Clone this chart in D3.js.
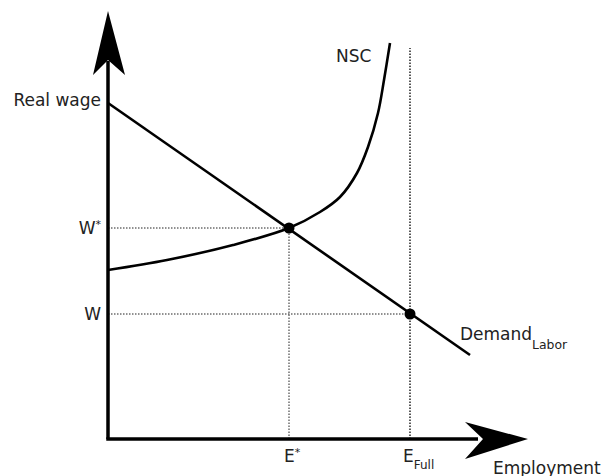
<!DOCTYPE html>
<html><head><meta charset="utf-8">
<script src="https://cdn.jsdelivr.net/npm/d3@7"></script>
<style>body{margin:0;background:#fff}svg{display:block}text{font-family:"DejaVu Sans",sans-serif;fill:#222}</style>
</head><body><svg id="c" width="606" height="476"></svg>
<script>
// Data (abstract units: employment on x, real wage on y)
const axisExtent = {x: 105, y: 107};
const demandPoints = [[0, 84], [90.5, 21]];
const nscPoints = [[0, 42.25], [14.75, 44.75], [31.25, 48.5], [45.25, 52.75], [53, 56.75], [58, 60.5], [62.25, 66.5], [65, 73], [67.5, 81.5], [69, 89.75], [70.5, 99]];
const eStar = 45.25, wStar = 52.75;
const eFull = 75.5, wLow = 31.25;
const eFullLineTop = 97.75;

const svg = d3.select("#c");
const x = d3.scaleLinear().domain([0, 100]).range([108, 508]);
const y = d3.scaleLinear().domain([0, 100]).range([439, 39]);

const line = d3.line().x(d => x(d[0])).y(d => y(d[1]));

// dotted guides
const dots = [
  {p: [[0, wStar], [eStar, wStar]], w: 1},
  {p: [[eStar, 0], [eStar, wStar]], w: 1},
  {p: [[0, wLow], [eFull, wLow]], w: 1},
  {p: [[eFull, 0], [eFull, eFullLineTop]], w: 1.5}
];
svg.selectAll("path.dot").data(dots).enter().append("path")
  .attr("d", d => line(d.p)).attr("fill", "none")
  .attr("stroke", "#222").attr("stroke-width", d => d.w).attr("stroke-dasharray", "1.5,1.5");

// curves
svg.append("path").attr("d", line(demandPoints)).attr("fill", "none").attr("stroke", "#000").attr("stroke-width", 2.6);
svg.append("path").attr("d", d3.line().x(d => x(d[0])).y(d => y(d[1])).curve(d3.curveCatmullRom)(nscPoints)).attr("fill", "none").attr("stroke", "#000").attr("stroke-width", 2.6);

// axes
const ox = x(0), oy = y(0), tx = x(axisExtent.x), ty = y(axisExtent.y);
svg.append("line").attr("x1", ox).attr("y1", oy).attr("x2", ox).attr("y2", ty + 50).attr("stroke", "#000").attr("stroke-width", 3.5);
svg.append("line").attr("x1", ox - 1.75).attr("y1", oy).attr("x2", tx - 50).attr("y2", oy).attr("stroke", "#000").attr("stroke-width", 3.5);
svg.append("path").attr("d", `M${ox},${ty} L${ox + 17},${ty + 64} L${ox},${ty + 49} L${ox - 15},${ty + 64} Z`).attr("fill", "#000");
svg.append("path").attr("d", `M${tx},${oy} L${tx - 63},${oy + 20} L${tx - 45},${oy} L${tx - 63},${oy - 17} Z`).attr("fill", "#000");

// points
svg.selectAll("circle").data([[eStar, wStar], [eFull, wLow]]).enter().append("circle")
  .attr("cx", d => x(d[0])).attr("cy", d => y(d[1])).attr("r", 5.5).attr("fill", "#000");

// labels
const fs = 17;
svg.append("text").attr("x", ox - 7).attr("y", 106).attr("text-anchor", "end").attr("font-size", fs).text("Real wage");
const ws = svg.append("text").attr("x", ox - 7).attr("y", y(wStar) + 6).attr("text-anchor", "end").attr("font-size", fs);
ws.append("tspan").text("W");
ws.append("tspan").attr("font-size", 11).attr("dy", -6).text("*");
svg.append("text").attr("x", ox - 7).attr("y", y(wLow) + 6).attr("text-anchor", "end").attr("font-size", fs).text("W");
const es = svg.append("text").attr("x", x(eStar) - 5).attr("y", 462).attr("font-size", fs);
es.append("tspan").text("E");
es.append("tspan").attr("font-size", 11).attr("dy", -6).text("*");
const ef = svg.append("text").attr("x", x(eFull) - 7).attr("y", 462).attr("font-size", fs);
ef.append("tspan").text("E");
ef.append("tspan").attr("font-size", 12).attr("dy", 7).text("Full");
svg.append("text").attr("x", 493).attr("y", 474).attr("font-size", fs).text("Employment");
svg.append("text").attr("x", 336).attr("y", 62).attr("font-size", fs).text("NSC");
const dl = svg.append("text").attr("x", 460).attr("y", 340).attr("font-size", fs);
dl.append("tspan").text("Demand");
dl.append("tspan").attr("font-size", 12.4).attr("dy", 9).text("Labor");
</script></body></html>
